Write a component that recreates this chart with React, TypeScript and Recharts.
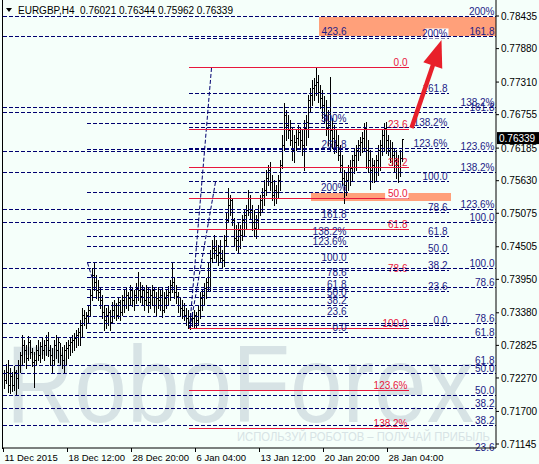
import React from "react";
import { ComposedChart, Bar, XAxis, YAxis, ReferenceLine, ReferenceArea } from "recharts";

const SYMBOL = "EURGBP,H4";
const FIRST_OPEN = 0.7235;

const highs = [
  0.7241, 0.7251, 0.7258, 0.7244, 0.7237, 0.7247, 0.7241, 0.7258, 0.7271, 0.73,
  0.7292, 0.7283, 0.7298, 0.7292, 0.7278, 0.7271, 0.7283, 0.7292, 0.7288, 0.7295,
  0.7292, 0.73, 0.7305, 0.7283, 0.7278, 0.7292, 0.73, 0.7295, 0.7287, 0.728,
  0.7283, 0.7288, 0.7292, 0.7295, 0.73, 0.7304, 0.7309, 0.7312, 0.7326, 0.7346,
  0.7343, 0.7339, 0.7351, 0.7377, 0.7414, 0.7423, 0.7402, 0.7394, 0.738, 0.7368,
  0.7351, 0.7346, 0.7351, 0.7343, 0.7356, 0.736, 0.7355, 0.7363, 0.736, 0.7368,
  0.7377, 0.738, 0.7373, 0.7385, 0.738, 0.7377, 0.7389, 0.7408, 0.739, 0.7385,
  0.738, 0.7385, 0.738, 0.7377, 0.7385, 0.738, 0.7373, 0.7382, 0.7377, 0.738,
  0.7373, 0.7377, 0.7384, 0.7394, 0.7423, 0.7397, 0.7385, 0.7373, 0.7363, 0.736,
  0.7355, 0.7346, 0.7343, 0.7338, 0.7339, 0.7343, 0.7339, 0.7351, 0.7373, 0.7377,
  0.7389, 0.7397, 0.7425, 0.7445, 0.7462, 0.7471, 0.7462, 0.7453, 0.7462, 0.7445,
  0.7471, 0.751, 0.7551, 0.7539, 0.7534, 0.75, 0.7487, 0.7492, 0.7487, 0.7505,
  0.7513, 0.7522, 0.7547, 0.7539, 0.7522, 0.7513, 0.7505, 0.7522, 0.7539, 0.7551,
  0.7564, 0.7581, 0.759, 0.7595, 0.7573, 0.7564, 0.7556, 0.7573, 0.7598, 0.7641,
  0.7695, 0.7683, 0.7675, 0.7666, 0.7653, 0.7641, 0.7649, 0.7658, 0.7654, 0.7649,
  0.7666, 0.7675, 0.7709, 0.7721, 0.7735, 0.7738, 0.7755, 0.7743, 0.7726, 0.7718,
  0.7707, 0.7701, 0.7683, 0.774, 0.767, 0.7658, 0.7649, 0.7641, 0.7624, 0.7607,
  0.7581, 0.7578, 0.759, 0.7598, 0.7607, 0.7619, 0.7624, 0.7632, 0.7637, 0.7646,
  0.7661, 0.7663, 0.7632, 0.7615, 0.7602, 0.7598, 0.7607, 0.7624, 0.7632, 0.7649,
  0.7661, 0.7663, 0.7641, 0.7632, 0.7629, 0.7619, 0.7615, 0.7607, 0.7615, 0.76344,
];

const lows = [
  0.721, 0.7218, 0.7203, 0.7201, 0.7205, 0.7207, 0.7198, 0.721, 0.7237, 0.7249,
  0.7254, 0.7244, 0.7258, 0.7261, 0.7247, 0.7211, 0.7249, 0.7258, 0.7254, 0.7261,
  0.7258, 0.7266, 0.7264, 0.7249, 0.7237, 0.7251, 0.7261, 0.7254, 0.7249, 0.7244,
  0.7237, 0.7249, 0.7261, 0.7266, 0.7271, 0.7275, 0.728, 0.7283, 0.7283, 0.7296,
  0.7317, 0.7312, 0.7322, 0.7334, 0.736, 0.7377, 0.7363, 0.736, 0.7346, 0.7329,
  0.7309, 0.7312, 0.7317, 0.7309, 0.7322, 0.7329, 0.7326, 0.7329, 0.7326, 0.7334,
  0.7339, 0.7346, 0.7343, 0.7351, 0.7349, 0.7343, 0.7355, 0.736, 0.7356, 0.7351,
  0.7343, 0.7351, 0.7339, 0.7346, 0.7351, 0.7339, 0.7334, 0.7346, 0.7343, 0.7331,
  0.7339, 0.7346, 0.7351, 0.736, 0.7373, 0.7363, 0.7355, 0.7339, 0.7334, 0.7329,
  0.7326, 0.7317, 0.7312, 0.731, 0.7316, 0.7312, 0.7314, 0.7317, 0.7329, 0.7343,
  0.7351, 0.7363, 0.7377, 0.7377, 0.7425, 0.7431, 0.7425, 0.742, 0.7425, 0.7414,
  0.7418, 0.7453, 0.7492, 0.7505, 0.7487, 0.7453, 0.7445, 0.744, 0.7448, 0.7462,
  0.7471, 0.7482, 0.7505, 0.75, 0.7479, 0.7469, 0.7465, 0.7482, 0.7505, 0.751,
  0.7522, 0.7539, 0.7556, 0.7547, 0.753, 0.7522, 0.7525, 0.7534, 0.7547, 0.7585,
  0.7615, 0.7632, 0.7636, 0.7624, 0.7598, 0.7595, 0.7615, 0.7624, 0.7619, 0.7607,
  0.7581, 0.7624, 0.7637, 0.768, 0.7692, 0.7701, 0.7709, 0.7697, 0.7687, 0.767,
  0.7663, 0.7641, 0.7624, 0.7615, 0.7619, 0.761, 0.7612, 0.7598, 0.7578, 0.7556,
  0.7525, 0.7539, 0.7547, 0.7556, 0.7564, 0.7576, 0.7581, 0.7598, 0.7607, 0.7612,
  0.7615, 0.7585, 0.7578, 0.7549, 0.7561, 0.7561, 0.7564, 0.7573, 0.7581, 0.7607,
  0.7615, 0.761, 0.7607, 0.7595, 0.759, 0.7578, 0.7568, 0.7561, 0.7571, 0.75962,
];

const closes = [
  0.7224, 0.7237, 0.7215, 0.7231, 0.7215, 0.7237, 0.7227, 0.7249, 0.7266, 0.7283,
  0.7275, 0.7261, 0.7288, 0.7271, 0.7254, 0.7258, 0.7275, 0.7266, 0.7281, 0.7275,
  0.7283, 0.7292, 0.7275, 0.7266, 0.7258, 0.7283, 0.7275, 0.7288, 0.7266, 0.7258,
  0.7275, 0.7278, 0.7283, 0.7288, 0.7292, 0.7295, 0.73, 0.7305, 0.7317, 0.7334,
  0.7329, 0.7334, 0.7343, 0.7368, 0.7402, 0.739, 0.7377, 0.7373, 0.736, 0.7339,
  0.7326, 0.7334, 0.7339, 0.7322, 0.7343, 0.7351, 0.7334, 0.7356, 0.7339, 0.736,
  0.7351, 0.7368, 0.7363, 0.7377, 0.736, 0.7368, 0.738, 0.7377, 0.7367, 0.7377,
  0.736, 0.7373, 0.7356, 0.7368, 0.7377, 0.7351, 0.7363, 0.736, 0.7368, 0.7343,
  0.7363, 0.7368, 0.7373, 0.7385, 0.739, 0.7373, 0.7367, 0.7351, 0.7346, 0.7343,
  0.7334, 0.7329, 0.7322, 0.7317, 0.7329, 0.7334, 0.7326, 0.7343, 0.7363, 0.7368,
  0.738, 0.739, 0.7411, 0.7431, 0.7448, 0.7445, 0.7436, 0.7442, 0.7431, 0.7428,
  0.7462, 0.7496, 0.7522, 0.753, 0.7496, 0.7465, 0.7462, 0.7479, 0.7471, 0.7496,
  0.7505, 0.7513, 0.7534, 0.7513, 0.7492, 0.7482, 0.7496, 0.751, 0.753, 0.7539,
  0.7547, 0.7568, 0.7581, 0.7561, 0.7539, 0.7547, 0.7544, 0.7564, 0.759, 0.7624,
  0.7675, 0.7658, 0.7649, 0.7632, 0.7615, 0.7629, 0.7636, 0.7646, 0.7632, 0.7624,
  0.7653, 0.7663, 0.7701, 0.7709, 0.7721, 0.7726, 0.7731, 0.7714, 0.7704, 0.7692,
  0.7675, 0.7653, 0.7658, 0.7649, 0.7636, 0.7629, 0.7624, 0.7607, 0.759, 0.7568,
  0.7556, 0.7564, 0.7578, 0.7585, 0.7598, 0.7607, 0.7615, 0.7624, 0.7629, 0.7636,
  0.7653, 0.7615, 0.7598, 0.7581, 0.759, 0.7578, 0.7598, 0.7615, 0.7624, 0.7641,
  0.7653, 0.7632, 0.7615, 0.7619, 0.7607, 0.7598, 0.759, 0.7578, 0.76021, 0.76339,
];

const xTickSlots = [0, 64, 128, 192, 256, 320, 384];
const xTickLabels = ["11 Dec 2015", "18 Dec 12:00", "28 Dec 20:00", "6 Jan 04:00", "13 Jan 12:00", "20 Jan 20:00", "28 Jan 04:00"];
const yTicks = [0.71145, 0.717, 0.7227, 0.72825, 0.7338, 0.7395, 0.74505, 0.75075, 0.7563, 0.76185, 0.76755, 0.7731, 0.7788, 0.78435];
const Y_DOMAIN: [number, number] = [0.71077, 0.78708];

const fibRatios = [0, 0.236, 0.382, 0.5, 0.618, 0.786, 1, 1.236, 1.382, 1.618, 2, 2.618, 3, 4.236];
const fibTexts = ["0.0", "23.6", "38.2", "50.0", "61.8", "78.6", "100.0", "123.6%", "138.2%", "161.8", "200%", "261.8", "300%", "423.6"];

const RED = "#e8173c";
const NAVY = "#000070";
const NAVY_TEXT = "#1c1c86";
const DASH = "4 2";
const FONT = "'Liberation Sans', Arial, sans-serif";

const fibGroups = [
  { id: "A", p0: 0.7755, p100: 0.73104, from: 186, to: 405, color: RED, text: RED, dash: undefined as string | undefined, levels: [0, 1, 2, 3, 4, 5, 6, 7, 8], noLine: [5], bg: [3] },
  { id: "B", p0: 0.73172, p100: 0.75608, from: 186, to: 445, color: NAVY, text: NAVY_TEXT, dash: DASH, levels: [0, 1, 2, 3, 4, 5, 6, 7, 8, 9, 10], noLine: [] as number[], bg: [10] },
  { id: "D", p0: 0.73043, p100: 0.74232, from: 84, to: 344, color: NAVY, text: NAVY_TEXT, dash: DASH, levels: [0, 1, 2, 3, 4, 5, 6, 7, 8, 9, 10, 11, 12, 13], noLine: [] as number[], bg: [] as number[] },
  { id: "X", p0: 0.69783, p100: 0.7491, from: 0, to: 492, color: NAVY, text: NAVY_TEXT, dash: DASH, levels: [1, 2, 3, 4, 5, 6, 7, 8, 9], noLine: [] as number[], bg: [] as number[] },
  { id: "Y", p0: 0.69817, p100: 0.74126, from: 0, to: 492, color: NAVY, text: NAVY_TEXT, dash: DASH, levels: [2, 3, 4, 5, 6, 7, 8, 9, 10], noLine: [] as number[], bg: [] as number[] },
];

const fibDiagonals = [
  { a: { x: 208, y: 0.7755 }, b: { x: 186, y: 0.73104 } },
  { a: { x: 212, y: 0.75608 }, b: { x: 187, y: 0.73172 } },
  { a: { x: 84, y: 0.74232 }, b: { x: 89, y: 0.73956 } },
];

const zones = [
  { x1: 316, x2: 492, y1: 0.78095, y2: 0.78418 },
  { x1: 308, x2: 447, y1: 0.75284, y2: 0.75421 },
];

const arrow = { a: { x: 408, y: 0.76528 }, b: { x: 438, y: 0.78027 } };

const N_SLOTS = 493;
const rows = Array.from({ length: N_SLOTS }, (_, s) => {
  const i = (s - 1) / 2;
  if (s % 2 === 1 && i < highs.length) {
    const open = i === 0 ? FIRST_OPEN : closes[i - 1];
    return { slot: s, open, high: highs[i], low: lows[i], close: closes[i], range: [lows[i], highs[i]] };
  }
  return { slot: s, range: null as any };
});

const last = highs.length - 1;
const lastOpen = closes[last - 1];

const OhlcShape = (p: any) => {
  const { x, y, width, height, payload } = p;
  if (!payload || payload.high == null || !isFinite(y) || !isFinite(height)) return <g />;
  const cx = Math.round(x + width / 2 - 0.5);
  const top = Math.round(y);
  const bot = Math.round(y + height);
  const k = height / (payload.high - payload.low || 1e-9);
  const yo = Math.round(y + (payload.high - payload.open) * k);
  const yc = Math.round(y + (payload.high - payload.close) * k);
  return (
    <g fill="#000">
      <rect x={cx} y={top} width={1} height={Math.max(1, bot - top + 1)} />
      <rect x={cx - 1} y={yo} width={1} height={1} />
      <rect x={cx + 1} y={yc} width={1} height={1} />
    </g>
  );
};

const hLineShape = (color: string, dash: string | undefined, hidden: boolean) => (p: any) => {
  if (hidden || ![p.x1, p.y1, p.x2, p.y2].every((v: number) => isFinite(v))) return <g />;
  const y = Math.floor(p.y1) + 0.5;
  return <line x1={Math.floor(p.x1)} y1={y} x2={Math.ceil(p.x2)} y2={y} stroke={color} strokeWidth={1} strokeDasharray={dash} />;
};

const fibLabel = (text: string, color: string, bg: boolean) => (p: any) => {
  const vb = p.viewBox || {};
  const x = vb.x + vb.width - 1;
  const y = Math.floor(vb.y) - 1;
  const w = text.length * 5.6;
  return (
    <g>
      {bg && <rect x={x - w} y={y - 8.5} width={w + 1} height={10} fill="#ffffff" />}
      <text x={x} y={y} textAnchor="end" fontSize={10} fontFamily={FONT} fill={color}>{text}</text>
    </g>
  );
};

const priceLabel = (p: any) => {
  const vb = p.viewBox || {};
  const x = vb.x + vb.width + 1;
  const y = vb.y;
  return (
    <g>
      <rect x={x} y={y - 7} width={42} height={12} fill="#000" />
      <text x={x + 2} y={y + 3} fontSize={10} fontFamily={FONT} fill="#fff">{closes[last].toFixed(5)}</text>
    </g>
  );
};

const ArrowShape = (p: any) => {
  const { x1, y1, x2, y2 } = p;
  if (![x1, y1, x2, y2].every((v) => isFinite(v))) return <g />;
  const dx = x2 - x1;
  const dy = y2 - y1;
  const len = Math.sqrt(dx * dx + dy * dy) || 1;
  const ux = dx / len;
  const uy = dy / len;
  const hl = 27;
  const hw = 10;
  const bx = x2 - ux * hl;
  const by = y2 - uy * hl;
  const px = -uy;
  const py = ux;
  return (
    <g>
      <line x1={x1} y1={y1} x2={bx + ux * 2} y2={by + uy * 2} stroke="#e8202a" strokeWidth={4.5} />
      <polygon points={`${x2},${y2} ${bx + px * hw},${by + py * hw} ${bx - px * hw},${by - py * hw}`} fill="#e8202a" />
    </g>
  );
};

const XTick = (p: any) => {
  const idx = xTickSlots.indexOf(p.payload.value);
  if (idx < 0) return <g />;
  return (
    <text x={p.x + 1} y={p.y} dy="0.71em" textAnchor="start" fontSize={9.5} fontFamily={FONT} fill="#000">
      {xTickLabels[idx]}
    </text>
  );
};

export default function App() {
  const fibLines: React.ReactNode[] = [];
  fibGroups.forEach((g) => {
    g.levels.forEach((li) => {
      const price = g.p0 + fibRatios[li] * (g.p100 - g.p0);
      const inside = price >= Y_DOMAIN[0] && price <= Y_DOMAIN[1];
      const nearBelow = price < Y_DOMAIN[0] && price > Y_DOMAIN[0] - 0.001;
      if (!inside && !nearBelow) return;
      const hidden = g.noLine.includes(li) || !inside;
      fibLines.push(
        <ReferenceLine
          key={`${g.id}-${li}`}
          segment={[{ x: g.from, y: price }, { x: g.to, y: price }]}
          stroke={g.color}
          shape={hLineShape(g.color, g.dash, hidden)}
          ifOverflow={inside ? "discard" : "visible"}
          label={fibLabel(fibTexts[li], g.text, g.bg.includes(li))}
        />
      );
    });
  });

  return (
    <div style={{ position: "absolute", left: 0, top: 0, width: 539, height: 464, background: "#F5FFFA", overflow: "hidden" }}>
      <svg width={539} height={464} style={{ position: "absolute", left: 0, top: 0 }}>
        <text x={6} y={422} fontSize={110} fontFamily={FONT} fill="#d7e3e5" textLength={468} lengthAdjust="spacingAndGlyphs">RoboForex</text>
        <text x={237} y={441} fontSize={12} fontFamily={FONT} fill="#d7e3e5" textLength={253} lengthAdjust="spacingAndGlyphs">ИСПОЛЬЗУЙ РОБОТОВ – ПОЛУЧАЙ ПРИБЫЛЬ</text>
      </svg>
      <div style={{ position: "absolute", left: 0, top: 0 }}>
        <ComposedChart width={539} height={464} data={rows} margin={{ top: 0, right: 0, bottom: 0, left: 3 }} barCategoryGap={0} barGap={0}>
          <XAxis
            dataKey="slot"
            type="category"
            height={16}
            ticks={xTickSlots}
            interval={0}
            tick={<XTick />}
            tickSize={4}
            tickMargin={2}
            axisLine={{ stroke: "#000" }}
            tickLine={{ stroke: "#000" }}
          />
          <YAxis
            orientation="right"
            type="number"
            width={43}
            domain={Y_DOMAIN}
            allowDataOverflow
            ticks={yTicks}
            interval={0}
            tickFormatter={(v: number) => v.toFixed(5)}
            tick={{ fontSize: 10, fill: "#000", fontFamily: FONT }}
            tickSize={3}
            tickMargin={2}
            axisLine={{ stroke: "#000" }}
            tickLine={{ stroke: "#000" }}
          />
          {zones.map((z, i) => (
            <ReferenceArea key={`z${i}`} x1={z.x1} x2={z.x2} y1={z.y1} y2={z.y2} fill="#ffa07a" fillOpacity={1} stroke="none" ifOverflow="visible" />
          ))}
          {fibDiagonals.map((d, i) => (
            <ReferenceLine key={`d${i}`} segment={[d.a, d.b]} stroke={NAVY} strokeDasharray={DASH} strokeWidth={1} ifOverflow="visible" />
          ))}
          {fibLines}
          <Bar dataKey="range" shape={OhlcShape} isAnimationActive={false} />
          <ReferenceLine segment={[arrow.a, arrow.b]} shape={ArrowShape} ifOverflow="visible" />
          <ReferenceLine y={closes[last]} stroke="none" ifOverflow="visible" label={priceLabel} />
        </ComposedChart>
      </div>
      <svg width={539} height={464} style={{ position: "absolute", left: 0, top: 0, pointerEvents: "none" }}>
        <line x1={2.5} y1={0} x2={2.5} y2={449} stroke="#000" strokeWidth={1} />
        <polygon points="6,8 12,8 9,12" fill="#000" />
        <text x={18} y={14} fontSize={10} fontFamily={FONT} fill="#000" style={{ whiteSpace: "pre" }}>
          {`${SYMBOL}  ${lastOpen.toFixed(5)} ${highs[last].toFixed(5)} ${lows[last].toFixed(5)} ${closes[last].toFixed(5)}`}
        </text>
      </svg>
    </div>
  );
}
